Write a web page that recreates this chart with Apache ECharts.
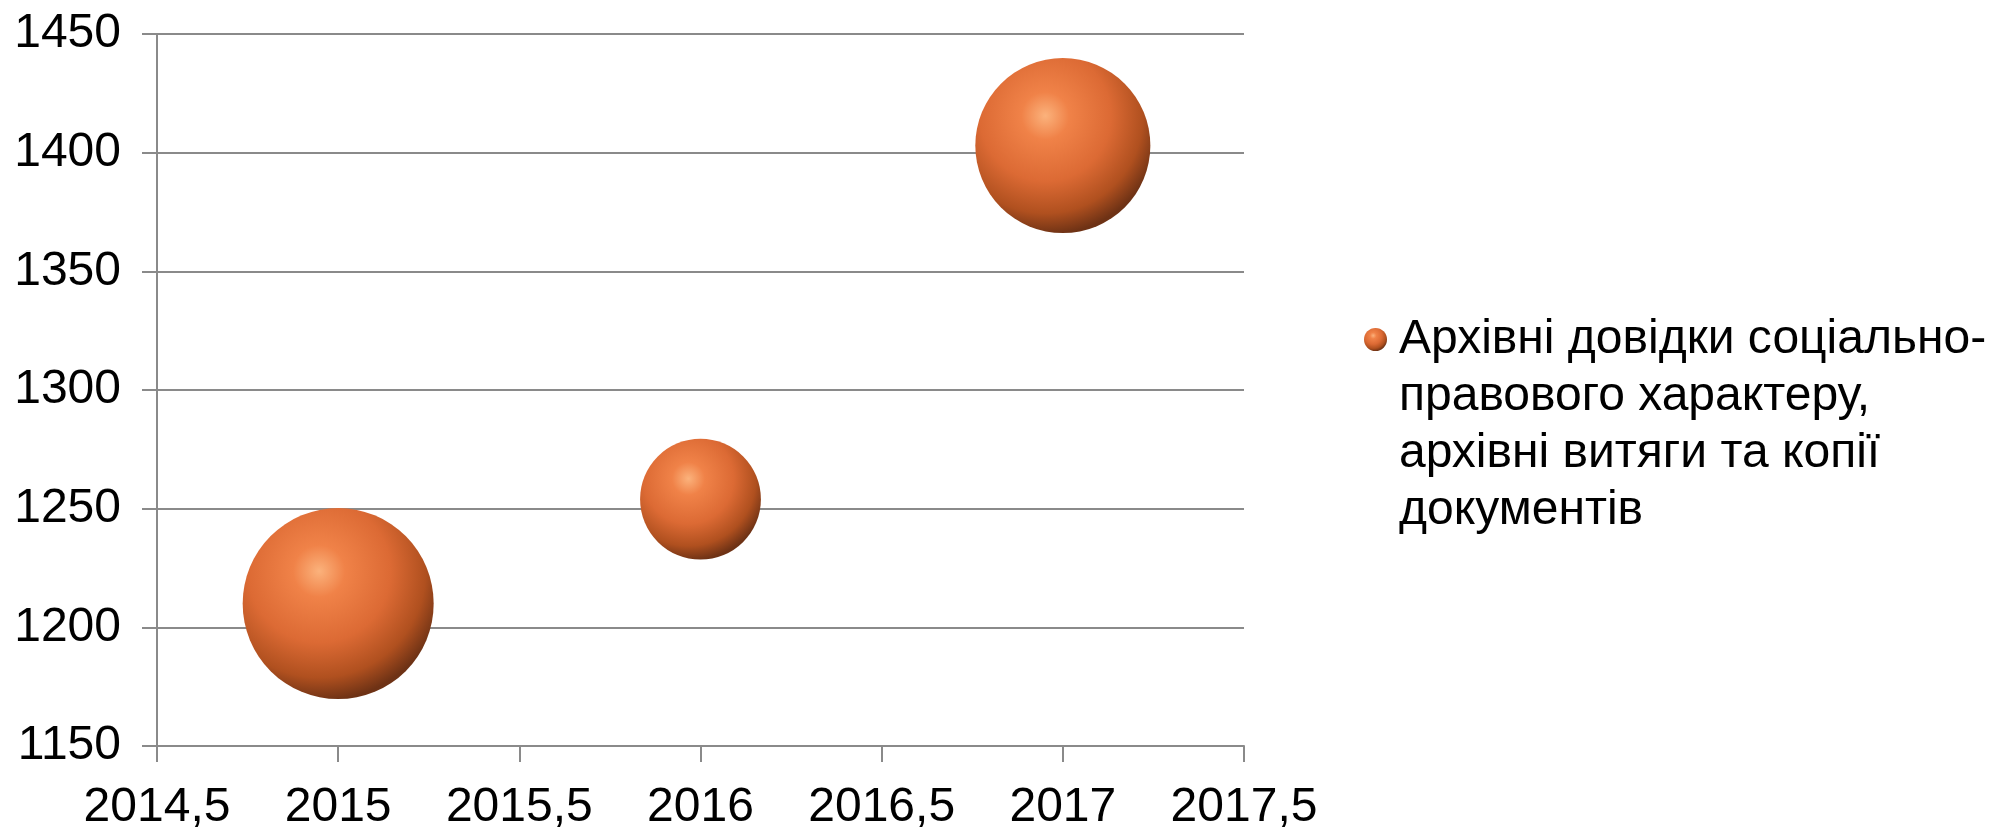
<!DOCTYPE html>
<html>
<head>
<meta charset="utf-8">
<script src="https://cdn.jsdelivr.net/npm/echarts@6/dist/echarts.min.js"></script>
<style>html,body{margin:0;padding:0;background:#fff;overflow:hidden}#c{width:2000px;height:832px}</style>
</head>
<body>
<div id="c"></div>
<script>
const seriesName = 'Архівні довідки соціально-правового характеру, архівні витяги та копії документів';
const legendLines = ['Архівні довідки соціально-', 'правового характеру,', 'архівні витяги та копії', 'документів'];
const years = [2015, 2016, 2017];
const values = [1210, 1254, 1403];
const bubbleSizes = [100, 40, 84];
const xTicks = [2014.5, 2015, 2015.5, 2016, 2016.5, 2017, 2017.5];
const yTicks = [1150, 1200, 1250, 1300, 1350, 1400, 1450];

const maxSize = Math.max.apply(null, bubbleSizes);
const FONT = '"Liberation Sans", Arial, sans-serif';
const sphere = {
  type: 'radial', x: 0.4, y: 0.33, r: 0.68,
  colorStops: [
    {offset: 0, color: '#fbb27c'},
    {offset: 0.2, color: '#f08248'},
    {offset: 0.55, color: '#dc6a34'},
    {offset: 0.82, color: '#b0501f'},
    {offset: 1, color: '#6e3215'}
  ]
};

const chart = echarts.init(document.getElementById('c'));
chart.setOption({
  animation: false,
  backgroundColor: '#fff',
  grid: {left: 157, right: 756, top: 34, bottom: 83},
  xAxis: {
    type: 'value', min: xTicks[0], max: xTicks[xTicks.length - 1], interval: 0.5,
    axisLine: {show: true, lineStyle: {color: '#8a8a8a', width: 2}},
    axisTick: {show: true, length: 16, lineStyle: {color: '#8a8a8a', width: 2}},
    splitLine: {show: false},
    axisLabel: {
      margin: 38, fontSize: 48, color: '#000', fontFamily: FONT,
      formatter: v => String(v).replace('.', ',')
    }
  },
  yAxis: {
    type: 'value', min: yTicks[0], max: yTicks[yTicks.length - 1], interval: 50,
    axisLine: {show: true, lineStyle: {color: '#8a8a8a', width: 2}},
    axisTick: {show: true, length: 15, lineStyle: {color: '#8a8a8a', width: 2}},
    splitLine: {show: true, lineStyle: {color: '#8a8a8a', width: 2}},
    axisLabel: {margin: 36, fontSize: 48, color: '#000', fontFamily: FONT, formatter: v => String(v)}
  },
  legend: {
    show: true, orient: 'vertical', left: 1364, top: 140, padding: 0,
    icon: 'circle', itemWidth: 23, itemHeight: 23,
    formatter: () => '\n\n\n' + legendLines.join('\n'),
    textStyle: {fontSize: 48, lineHeight: 57, color: '#000', fontFamily: FONT, padding: [0, 0, 0, 7]},
    data: [seriesName]
  },
  series: [{
    name: seriesName,
    type: 'scatter',
    symbol: 'circle',
    data: years.map((y, i) => [y, values[i], bubbleSizes[i]]),
    symbolSize: d => 191 * Math.sqrt(d[2] / maxSize),
    itemStyle: {color: sphere, opacity: 1}
  }]
});
</script>
</body>
</html>
